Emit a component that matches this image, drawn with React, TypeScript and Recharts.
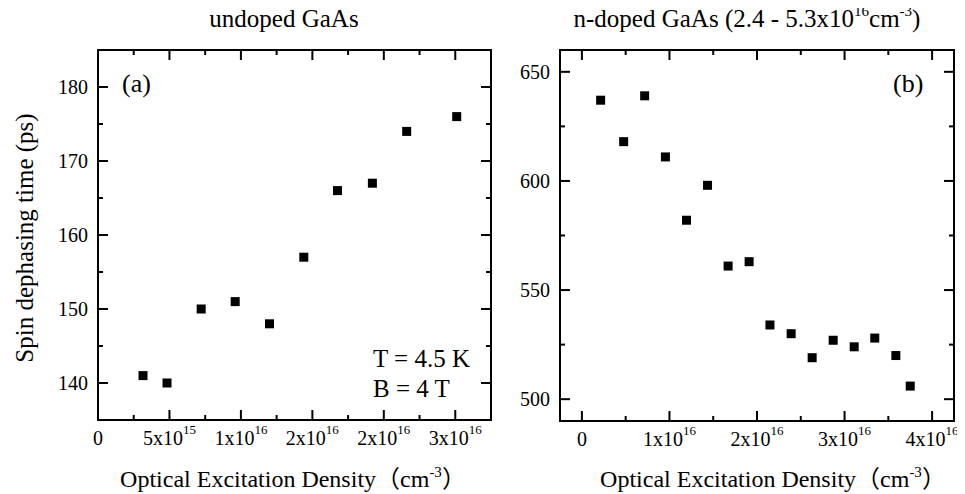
import React from 'react';
import { ScatterChart, Scatter, XAxis, YAxis } from 'recharts';

// Panel (a): undoped GaAs
const undopedDensity = [3.15e15, 4.83e15, 7.22e15, 9.6e15, 1.2e16, 1.44e16, 1.676e16, 1.92e16, 2.16e16, 2.51e16];
const undopedTime = [141, 140, 150, 151, 148, 157, 166, 167, 174, 176];

// Panel (b): n-doped GaAs
const dopedDensity = [
  2.14e15, 4.77e15, 7.17e15, 9.54e15, 1.195e16, 1.435e16, 1.67e16, 1.91e16,
  2.148e16, 2.39e16, 2.63e16, 2.87e16, 3.11e16, 3.345e16, 3.586e16, 3.75e16,
];
const dopedTime = [637, 618, 639, 611, 582, 598, 561, 563, 534, 530, 519, 527, 524, 528, 520, 506];

// Axis ticks and their labels ([mantissa, exponent])
const undopedXMajor = [0, 5e15, 1e16, 1.5e16, 2e16, 2.5e16];
const undopedXMinor = [2.5e15, 7.5e15, 1.25e16, 1.75e16, 2.25e16];
const undopedXLabels: [string, string][] = [
  ['0', ''], ['5x10', '15'], ['1x10', '16'], ['2x10', '16'], ['2x10', '16'], ['3x10', '16'],
];
const undopedYMajor = [140, 150, 160, 170, 180];
const undopedYMinor = [145, 155, 165, 175];

const dopedXMajor = [0, 1e16, 2e16, 3e16, 4e16];
const dopedXMinor = [5e15, 1.5e16, 2.5e16, 3.5e16];
const dopedXLabels: [string, string][] = [
  ['0', ''], ['1x10', '16'], ['2x10', '16'], ['3x10', '16'], ['4x10', '16'],
];
const dopedYMajor = [500, 550, 600, 650];
const dopedYMinor = [525, 575, 625];

const undopedXDomain: [number, number] = [0, 2.75e16];
const undopedYDomain: [number, number] = [135, 185];
const dopedXDomain: [number, number] = [-2.5e15, 4.25e16];
const dopedYDomain: [number, number] = [490, 660];

const FONT = 'Liberation Serif, Times New Roman, Noto Sans CJK SC, serif';
const MAJOR_LEN = 10;
const MINOR_LEN = 5;
const TICK_FONT = 20;
const SUP_FONT = 13;

// Axis sizes inside each chart
const X_AXIS_H = 40;
const TOP_AXIS_H = 10;
const Y_AXIS_W = 60;
const RIGHT_AXIS_W = 5;

const sameValue = (a: number, b: number) => Math.abs(a - b) <= 1e-9 * Math.max(1, Math.abs(a), Math.abs(b));

// Tick labels for the bottom axis
function makeXLabel(major: number[], labels: [string, string][]) {
  return (props: any) => {
    const x = Number(props.x);
    const y = Number(props.y);
    const idx = major.findIndex((m) => sameValue(m, Number(props.payload?.value)));
    if (idx < 0) return <g />;
    const [m, e] = labels[idx];
    return (
      <text x={x} y={y} textAnchor="middle" fontSize={TICK_FONT} fontFamily={FONT} fill="#000">
        {m}
        {e ? (
          <tspan dy={-11} fontSize={SUP_FONT}>
            {e}
          </tspan>
        ) : null}
      </text>
    );
  };
}

// Tick labels for the left axis
function makeYLabel(major: number[]) {
  return (props: any) => {
    const v = Number(props.payload?.value);
    if (!major.some((m) => sameValue(m, v))) return <g />;
    return (
      <text x={Number(props.x)} y={Number(props.y)} dy="0.35em" textAnchor="end" fontSize={TICK_FONT} fontFamily={FONT} fill="#000">
        {String(v)}
      </text>
    );
  };
}

const squareMarker = (props: any) => {
  const { cx, cy } = props;
  return <rect x={cx - 4.5} y={cy - 4.5} width={9} height={9} fill="#000" />;
};

interface PanelSpec {
  offsetX: number;
  width: number;
  height: number;
  margin: { top: number; right: number; bottom: number; left: number };
  data: { x: number; y: number }[];
  xDomain: [number, number];
  yDomain: [number, number];
  xMajor: number[];
  xMinor: number[];
  yMajor: number[];
  yMinor: number[];
  xLabel: (p: any) => React.ReactElement;
  yLabel: (p: any) => React.ReactElement;
}

const undopedSpec: PanelSpec = {
  offsetX: 0,
  width: 500,
  height: 494,
  margin: { top: 40, right: 4, bottom: 34, left: 38 },
  data: undopedDensity.map((x, i) => ({ x, y: undopedTime[i] })),
  xDomain: undopedXDomain,
  yDomain: undopedYDomain,
  xMajor: undopedXMajor,
  xMinor: undopedXMinor,
  yMajor: undopedYMajor,
  yMinor: undopedYMinor,
  xLabel: makeXLabel(undopedXMajor, undopedXLabels),
  yLabel: makeYLabel(undopedYMajor),
};

const dopedSpec: PanelSpec = {
  offsetX: 500,
  width: 465,
  height: 494,
  margin: { top: 40, right: 6, bottom: 33, left: 0 },
  data: dopedDensity.map((x, i) => ({ x, y: dopedTime[i] })),
  xDomain: dopedXDomain,
  yDomain: dopedYDomain,
  xMajor: dopedXMajor,
  xMinor: dopedXMinor,
  yMajor: dopedYMajor,
  yMinor: dopedYMinor,
  xLabel: makeXLabel(dopedXMajor, dopedXLabels),
  yLabel: makeYLabel(dopedYMajor),
};

function Panel({ spec }: { spec: PanelSpec }) {
  return (
    <ScatterChart width={spec.width} height={spec.height} margin={spec.margin}>
      <XAxis
        type="number"
        dataKey="x"
        domain={spec.xDomain}
        allowDataOverflow
        ticks={spec.xMajor}
        interval={0}
        height={X_AXIS_H}
        tickSize={0}
        tickMargin={25}
        axisLine={false}
        tickLine={false}
        tick={spec.xLabel}
      />
      <XAxis xAxisId="top" orientation="top" type="number" dataKey="x" domain={spec.xDomain} allowDataOverflow height={TOP_AXIS_H} axisLine={false} tickLine={false} tick={false} />
      <YAxis
        type="number"
        dataKey="y"
        domain={spec.yDomain}
        allowDataOverflow
        ticks={spec.yMajor}
        interval={0}
        width={Y_AXIS_W}
        tickSize={0}
        tickMargin={10}
        axisLine={false}
        tickLine={false}
        tick={spec.yLabel}
      />
      <YAxis yAxisId="right" orientation="right" type="number" dataKey="y" domain={spec.yDomain} allowDataOverflow width={RIGHT_AXIS_W} axisLine={false} tickLine={false} tick={false} />
      <Scatter data={spec.data} shape={squareMarker} isAnimationActive={false} />
    </ScatterChart>
  );
}

// Plot frame with inward ticks on all four sides, using each panel's axis domains
function Frame({ spec }: { spec: PanelSpec }) {
  const left = spec.offsetX + spec.margin.left + Y_AXIS_W;
  const right = spec.offsetX + spec.width - spec.margin.right - RIGHT_AXIS_W;
  const top = spec.margin.top + TOP_AXIS_H;
  const bottom = spec.height - spec.margin.bottom - X_AXIS_H;
  const sx = (v: number) => left + ((v - spec.xDomain[0]) / (spec.xDomain[1] - spec.xDomain[0])) * (right - left);
  const sy = (v: number) => bottom - ((v - spec.yDomain[0]) / (spec.yDomain[1] - spec.yDomain[0])) * (bottom - top);
  const xt = [
    ...spec.xMajor.map((v) => ({ v, len: MAJOR_LEN })),
    ...spec.xMinor.map((v) => ({ v, len: MINOR_LEN })),
  ];
  const yt = [
    ...spec.yMajor.map((v) => ({ v, len: MAJOR_LEN })),
    ...spec.yMinor.map((v) => ({ v, len: MINOR_LEN })),
  ];
  return (
    <g stroke="#000" strokeWidth={2} fill="none">
      <rect x={left} y={top} width={right - left} height={bottom - top} />
      {xt.map(({ v, len }) => (
        <g key={`x${v}`}>
          <line x1={sx(v)} x2={sx(v)} y1={bottom} y2={bottom - len} />
          <line x1={sx(v)} x2={sx(v)} y1={top} y2={top + len} />
        </g>
      ))}
      {yt.map(({ v, len }) => (
        <g key={`y${v}`}>
          <line x1={left} x2={left + len} y1={sy(v)} y2={sy(v)} />
          <line x1={right} x2={right - len} y1={sy(v)} y2={sy(v)} />
        </g>
      ))}
    </g>
  );
}

export default function App() {
  return (
    <div style={{ position: 'relative', left: -8, top: -8, width: 965, height: 494, display: 'flex' }}>
      <div style={{ width: 500, height: 494, flex: 'none' }}>
        <Panel spec={undopedSpec} />
      </div>
      <div style={{ width: 465, height: 494, flex: 'none' }}>
        <Panel spec={dopedSpec} />
      </div>
      <svg
        width={965}
        height={494}
        style={{ position: 'absolute', left: 0, top: 0, pointerEvents: 'none' }}
        fontFamily={FONT}
        fill="#000"
      >
        <Frame spec={undopedSpec} />
        <Frame spec={dopedSpec} />
        <text x={284} y={27} textAnchor="middle" fontSize={25}>
          undoped GaAs
        </text>
        <text x={747} y={27} textAnchor="middle" fontSize={25}>
          n-doped GaAs (2.4 - 5.3x10
          <tspan dy={-11} fontSize={15}>16</tspan>
          <tspan dy={11} fontSize={25}>cm</tspan>
          <tspan dy={-11} fontSize={15}>-3</tspan>
          <tspan dy={11} fontSize={25}>)</tspan>
        </text>
        <text x={33} y={238} textAnchor="middle" fontSize={25} transform="rotate(-90, 33, 238)">
          Spin dephasing time (ps)
        </text>
        <text x={122} y={92} fontSize={26}>(a)</text>
        <text x={893} y={92} fontSize={26}>(b)</text>
        <text x={373} y={367} fontSize={25}>T = 4.5 K</text>
        <text x={373} y={397} fontSize={25}>B = 4 T</text>
        <text x={293} y={487} textAnchor="middle" fontSize={24}>
          Optical Excitation Density（cm
          <tspan dy={-10} fontSize={15}>-3</tspan>
          <tspan dy={10} fontSize={24}>）</tspan>
        </text>
        <text x={773} y={487} textAnchor="middle" fontSize={24}>
          Optical Excitation Density（cm
          <tspan dy={-10} fontSize={15}>-3</tspan>
          <tspan dy={10} fontSize={24}>）</tspan>
        </text>
      </svg>
    </div>
  );
}
